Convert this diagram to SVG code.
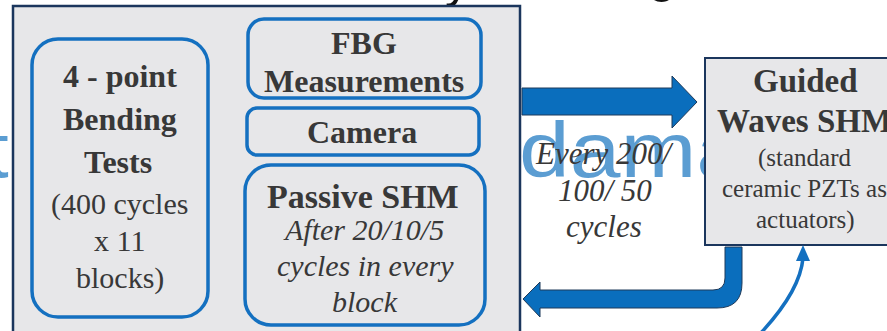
<svg xmlns="http://www.w3.org/2000/svg" width="887" height="331" viewBox="0 0 887 331">
<rect x="0" y="0" width="887" height="331" fill="#ffffff"/>
<g id="background-text" fill="#5b9dd2">
<text font-family="Liberation Sans" font-size="78" x="-13" y="177">t</text>
<text font-family="Liberation Sans" font-size="78" x="519" y="177" textLength="228" lengthAdjust="spacingAndGlyphs">dama</text>
<text font-family="Liberation Sans" font-size="50" fill="#111111" x="445" y="-3">y</text>
<text font-family="Liberation Sans" font-size="50" fill="#111111" x="648" y="-8">g</text>
</g>
<g id="test-panel">
<rect x="13" y="6" width="507" height="345" fill="#e7e7e9" stroke="#1b365d" stroke-width="2.5"/>
</g>
<g id="bending-tests">
<rect x="32" y="39" width="176" height="278" rx="26" fill="#e7e7e9" stroke="#1470c0" stroke-width="3.5"/>
<text font-family="Liberation Serif" fill="#383838" font-weight="bold" font-size="32" x="63" y="87">4 - point</text>
<text font-family="Liberation Serif" fill="#383838" font-weight="bold" font-size="32" x="63" y="130">Bending</text>
<text font-family="Liberation Serif" fill="#383838" font-weight="bold" font-size="32" x="84" y="173">Tests</text>
<text font-family="Liberation Serif" fill="#383838" font-size="30" x="51" y="214">(400 cycles</text>
<text font-family="Liberation Serif" fill="#383838" font-size="30" x="94" y="251">x 11</text>
<text font-family="Liberation Serif" fill="#383838" font-size="30" x="76" y="288">blocks)</text>
</g>
<g id="fbg">
<rect x="248" y="19" width="233" height="79" rx="16" fill="#e7e7e9" stroke="#1470c0" stroke-width="3.5"/>
<text font-family="Liberation Serif" fill="#383838" font-weight="bold" font-size="32" x="331" y="54">FBG</text>
<text font-family="Liberation Serif" fill="#383838" font-weight="bold" font-size="32" x="264" y="92">Measurements</text>
</g>
<g id="camera">
<rect x="247" y="108" width="232" height="47" rx="10" fill="#e7e7e9" stroke="#1470c0" stroke-width="3.5"/>
<text font-family="Liberation Serif" fill="#383838" font-weight="bold" font-size="32" x="307" y="143">Camera</text>
</g>
<g id="passive-shm">
<rect x="245" y="165" width="240" height="160" rx="26" fill="#e7e7e9" stroke="#1470c0" stroke-width="3.5"/>
<text font-family="Liberation Serif" fill="#383838" font-weight="bold" font-size="34" x="267" y="208">Passive SHM</text>
<text font-family="Liberation Serif" fill="#383838" font-style="italic" font-size="30" x="285" y="240">After 20/10/5</text>
<text font-family="Liberation Serif" fill="#383838" font-style="italic" font-size="30" x="277" y="276">cycles in every</text>
<text font-family="Liberation Serif" fill="#383838" font-style="italic" font-size="30" x="332" y="312">block</text>
</g>
<g id="guided-waves">
<rect x="705" y="58" width="200" height="187" fill="#e7e7e9" stroke="#1b365d" stroke-width="2"/>
<text font-family="Liberation Serif" fill="#383838" font-weight="bold" font-size="33" x="753" y="92">Guided</text>
<text font-family="Liberation Serif" fill="#383838" font-weight="bold" font-size="33" x="717" y="132">Waves SHM</text>
<text font-family="Liberation Serif" fill="#383838" font-size="25" x="758" y="166">(standard</text>
<text font-family="Liberation Serif" fill="#383838" font-size="25" x="722" y="197">ceramic PZTs as</text>
<text font-family="Liberation Serif" fill="#383838" font-size="25" x="756" y="228">actuators)</text>
</g>
<g id="connectors">
<path d="M522 88 L672 88 L672 76 L697 102 L672 128 L672 115 L522 115 Z" fill="#0a6ebd" stroke="#1f3a5a" stroke-width="1"/>
<path d="M725 247 L742 247 L742 283 Q742 308 717 308 L540 308 L540 317 L523 299 L540 282 L540 290 L713 290 Q725 290 725 278 Z" fill="#0a6ebd" stroke="#1f3a5a" stroke-width="1"/>
<path d="M758 336 Q800 292 803 258" fill="none" stroke="#1470c0" stroke-width="3.5"/>
<polygon points="803,245 796,261 810,261" fill="#1470c0"/>
<text font-family="Liberation Serif" font-style="italic" font-size="31" fill="#383838" x="536" y="164">Every 200/</text>
<text font-family="Liberation Serif" font-style="italic" font-size="31" fill="#383838" x="558" y="201">100/ 50</text>
<text font-family="Liberation Serif" font-style="italic" font-size="31" fill="#383838" x="566" y="237">cycles</text>
</g>
</svg>
